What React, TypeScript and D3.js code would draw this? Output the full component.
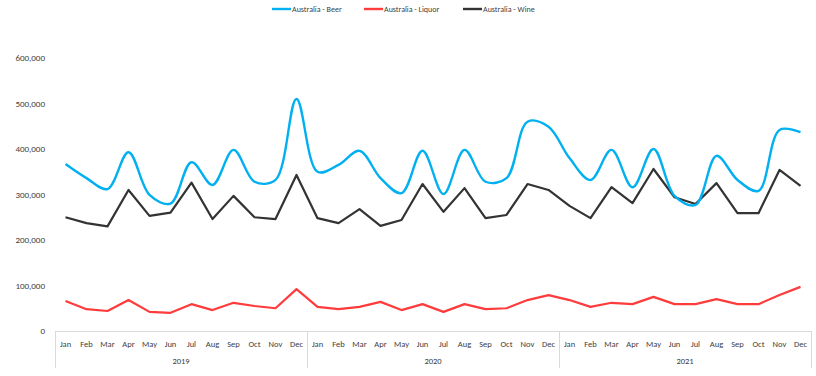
import React from "react";
import * as d3 from "d3";

const months = ["Jan","Feb","Mar","Apr","May","Jun","Jul","Aug","Sep","Oct","Nov","Dec"];
const years = ["2019","2020","2021"];
const beer = [367000,336000,312000,393000,299000,280000,371000,321000,398000,328000,332000,510000,
  350000,365000,396000,336000,303000,396000,301000,398000,328000,336000,460000,449000,
  380000,332000,398000,316000,400000,297000,277000,385000,332000,308000,442000,437000];
const liquor = [66000,48000,44000,68000,42000,40000,59000,46000,62000,55000,50000,92000,
  53000,48000,53000,64000,46000,59000,42000,59000,48000,50000,68000,79000,
  68000,53000,62000,59000,75000,59000,59000,70000,59000,59000,79000,97000];
const wine = [250000,237000,230000,310000,253000,260000,326000,246000,297000,250000,246000,343000,
  248000,237000,268000,231000,244000,323000,262000,314000,248000,255000,323000,310000,
  275000,248000,316000,281000,356000,294000,279000,325000,259000,259000,354000,319000];
const yTicks = [0,100000,200000,300000,400000,500000,600000];
const seriesNames = ["Australia - Beer","Australia - Liquor","Australia - Wine"];
const colors = ["#00B0F0","#FF3B3B","#333333"];

const W = 816, H = 376;
const x0 = 55, x1 = 811, yTop = 58, yBot = 331;

export default function App() {
  const cats = years.flatMap(y => months.map(m => `${y}-${m}`));
  const x = d3.scaleBand<string>().domain(cats).range([x0, x1]);
  const y = d3.scaleLinear().domain([0, 600000]).range([yBot, yTop]);
  const cx = (i: number) => (x(cats[i]) as number) + x.bandwidth() / 2;
  const smooth = d3.line<number>().x((_, i) => cx(i)).y(d => y(d)).curve(d3.curveCatmullRom.alpha(0.5));
  const straight = d3.line<number>().x((_, i) => cx(i)).y(d => y(d));
  const fmt = d3.format(",");
  const font = "Carlito, Calibri, 'Liberation Sans', Arial, sans-serif";
  const legendX = [272, 364, 463];
  const yearW = x.bandwidth() * 12;
  return (
    <svg width={W} height={H} style={{ position: "absolute", left: 0, top: 0, background: "#fff" }} fontFamily={font}>
      {yTicks.map(t => (
        <text key={t} x={45} y={y(t)} dy="0.35em" textAnchor="end" fontSize={9} fill="#404040">{fmt(t)}</text>
      ))}
      <line x1={x0} x2={x1} y1={yBot + 0.5} y2={yBot + 0.5} stroke="#d9d9d9" />
      {[0, 1, 2, 3].map(k => (
        <line key={k} x1={x0 + k * yearW + 0.5} x2={x0 + k * yearW + 0.5} y1={yBot} y2={368} stroke="#d9d9d9" />
      ))}
      {cats.map((c, i) => (
        <text key={c} x={cx(i)} y={344} dy="0.35em" textAnchor="middle" fontSize={8.5} fill="#404040">{months[i % 12]}</text>
      ))}
      {years.map((yr, k) => (
        <text key={yr} x={x0 + k * yearW + yearW / 2} y={361} dy="0.35em" textAnchor="middle" fontSize={8.5} fill="#404040">{yr}</text>
      ))}
      <path d={straight(liquor) || ""} fill="none" stroke={colors[1]} strokeWidth={2.2} strokeLinejoin="round" />
      <path d={straight(wine) || ""} fill="none" stroke={colors[2]} strokeWidth={2.2} strokeLinejoin="round" />
      <path d={smooth(beer) || ""} fill="none" stroke={colors[0]} strokeWidth={2.4} strokeLinejoin="round" />
      {seriesNames.map((n, i) => (
        <g key={n}>
          <line x1={legendX[i]} x2={legendX[i] + 19} y1={9} y2={9} stroke={colors[i]} strokeWidth={2.4} />
          <text x={legendX[i] + 20} y={9} dy="0.35em" fontSize={8} fill="#404040">{n}</text>
        </g>
      ))}
    </svg>
  );
}
